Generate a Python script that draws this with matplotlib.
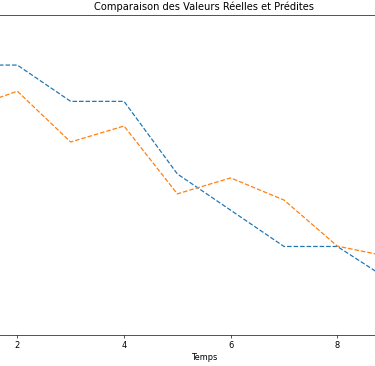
import matplotlib
matplotlib.use("Agg")
from matplotlib import pyplot as plt

# time steps and series
temps = [1, 2, 3, 4, 5, 6, 7, 8, 9, 10]
valeurs_reelles = [10.0, 10.0, 9.0, 9.0, 7.0, 6.0, 5.0, 5.0, 4.05, 3.0]
valeurs_predites = [8.76, 9.28, 7.88, 8.32, 6.45, 6.89, 6.28, 5.01, 4.71, 4.4]

# original looks like a big figure shrunk down, so render at a low dpi
DPI = 59
fig = plt.figure(figsize=(375 / DPI, 366 / DPI), dpi=DPI)
# the original is a crop of a wider figure: axes run past both side edges
ax = fig.add_axes([-0.16, 0.0847, 1.408, 0.8743])

ax.plot(temps, valeurs_reelles, linestyle="--", color="tab:blue", label="Valeurs Réelles")
ax.plot(temps, valeurs_predites, linestyle="--", color="tab:orange", label="Valeurs Prédites")

ax.set_xlim(0.55, 10.45)
ax.set_ylim(2.56, 11.38)
ax.set_title("Comparaison des Valeurs Réelles et Prédites")
ax.set_xlabel("Temps")

fig.savefig("out.png", dpi=DPI)
